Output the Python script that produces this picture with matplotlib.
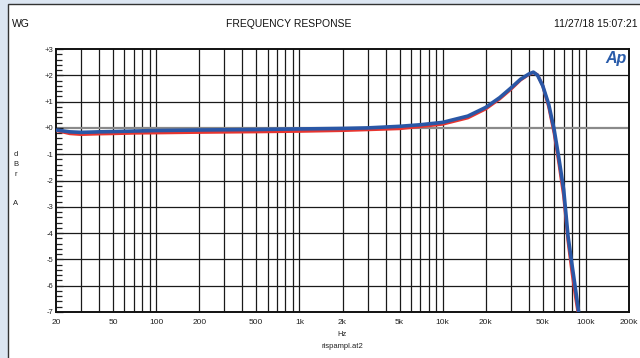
import numpy as np
import matplotlib
matplotlib.use("Agg")
import matplotlib.pyplot as plt
from matplotlib.patches import Rectangle

plt.rcParams['font.family'] = ['Liberation Sans', 'DejaVu Sans']

# ---- data ----
freq_blue = [20, 25, 30, 40, 50, 70, 100, 200, 500, 1000, 2000, 3000, 5000, 7000,
             10000, 15000, 20000, 25000, 30000, 35000, 40000, 43000, 46000, 50000,
             55000, 60000, 65000, 70000, 75000, 80000, 85000, 89000]
db_blue = [-0.08, -0.15, -0.17, -0.15, -0.14, -0.12, -0.10, -0.08, -0.06, -0.04, -0.02, 0.0,
           0.06, 0.12, 0.21, 0.45, 0.78, 1.15, 1.52, 1.85, 2.05, 2.12, 2.0, 1.6,
           0.9, -0.05, -1.2, -2.35, -4.1, -5.2, -6.2, -7.0]

freq_red = [20, 25, 30, 40, 50, 70, 100, 200, 500, 1000, 2000, 3000, 5000, 7000,
            10000, 15000, 20000, 25000, 30000, 35000, 40000, 43000, 46000, 50000,
            55000, 60000, 65000, 70000, 75000, 80000, 85000, 88000]
db_red = [-0.10, -0.22, -0.25, -0.23, -0.22, -0.20, -0.19, -0.17, -0.15, -0.13, -0.10, -0.07,
          -0.03, 0.05, 0.14, 0.38, 0.72, 1.10, 1.47, 1.82, 2.03, 2.10, 2.02, 1.6,
          0.8, -0.2, -1.4, -2.6, -4.3, -5.5, -6.5, -7.0]

xtick_vals = [20, 50, 100, 200, 500, 1000, 2000, 5000, 10000, 20000, 50000, 100000, 200000]
xtick_labels = ['20', '50', '100', '200', '500', '1k', '2k', '5k', '10k', '20k', '50k', '100k', '200k']
ytick_vals = [3, 2, 1, 0, -1, -2, -3, -4, -5, -6, -7]
ytick_labels = ['+3', '+2', '+1', '+0', '-1', '-2', '-3', '-4', '-5', '-6', '-7']

W, H = 640, 358
fig = plt.figure(figsize=(W / 100, H / 100), dpi=100)
fig.patch.set_facecolor('#dce6f2')

# white panel with dark border
panel = Rectangle((8 / W, -0.01), 1.0, (H - 4) / H + 0.01, transform=fig.transFigure,
                  facecolor='white', edgecolor='#333333', linewidth=1.0, zorder=-10)
fig.add_artist(panel)

ax = fig.add_axes([56 / W, (H - 312) / H, (629 - 56) / W, (312 - 49) / H])
ax.set_zorder(5)
ax.set_facecolor('white')
ax.set_xscale('log')
ax.set_xlim(20, 200000)
ax.set_ylim(-7, 3)

# grid lines
grid_freqs = []
for dec in [10, 100, 1000, 10000, 100000]:
    for m in range(1, 10):
        f = m * dec
        if 20 < f < 200000:
            grid_freqs.append(f)
for f in grid_freqs:
    ax.axvline(f, color='#1a1a1a', linewidth=0.9, zorder=1)
for yv in ytick_vals:
    if yv == 0:
        ax.axhline(yv, color='#8a8a8a', linewidth=1.6, zorder=1)
    elif -7 < yv < 3:
        ax.axhline(yv, color='#1a1a1a', linewidth=0.9, zorder=1)

ax.plot(freq_red, db_red, color='#e8352f', linewidth=2.2, zorder=3, solid_capstyle='butt')
ax.plot(freq_blue, db_blue, color='#2a57a6', linewidth=2.6, zorder=4, solid_capstyle='butt')

ax.set_xticks(xtick_vals)
ax.set_xticklabels(xtick_labels)
ax.xaxis.set_minor_locator(matplotlib.ticker.NullLocator())
ax.tick_params(axis='x', length=0, pad=5, labelsize=6, colors='#222222')

ax.set_yticks(ytick_vals)
ax.set_yticklabels(ytick_labels)
ax.set_yticks(np.arange(-7, 3.01, 0.2), minor=True)
ax.tick_params(axis='y', which='major', direction='in', length=5, width=0.9,
               labelsize=5.5, pad=2, colors='#222222')
ax.tick_params(axis='y', which='minor', direction='in', length=4, width=0.9, color='#222222')
ax.tick_params(axis='y', right=False)

for s in ax.spines.values():
    s.set_color('#111111')
    s.set_linewidth(1.4)

def px(x, y):
    return x / W, 1 - y / H

fig.text(*px(12, 24), 'WG', fontsize=7.5, ha='left', va='center', color='#111111')
fig.text(*px(289, 24), 'FREQUENCY RESPONSE', fontsize=7.5, ha='center', va='center', color='#111111')
fig.text(*px(638, 24), '11/27/18 15:07:21', fontsize=7.5, ha='right', va='center', color='#111111')

fig.text(*px(342, 334), 'Hz', fontsize=5.5, ha='center', va='center', color='#222222')
fig.text(*px(342, 347), 'rispampl.at2', fontsize=5.5, ha='center', va='center', color='#222222')

for ch, yy in [('d', 154), ('B', 164), ('r', 174), ('A', 203)]:
    fig.text(*px(16, yy), ch, fontsize=5.5, ha='center', va='center', color='#222222')

fig.text(*px(616, 59), 'Ap', fontsize=11.5, fontweight='bold', fontstyle='italic',
         ha='center', va='center', color='#2a5caa', zorder=10)

fig.savefig('out.png', dpi=100, facecolor=fig.get_facecolor())
